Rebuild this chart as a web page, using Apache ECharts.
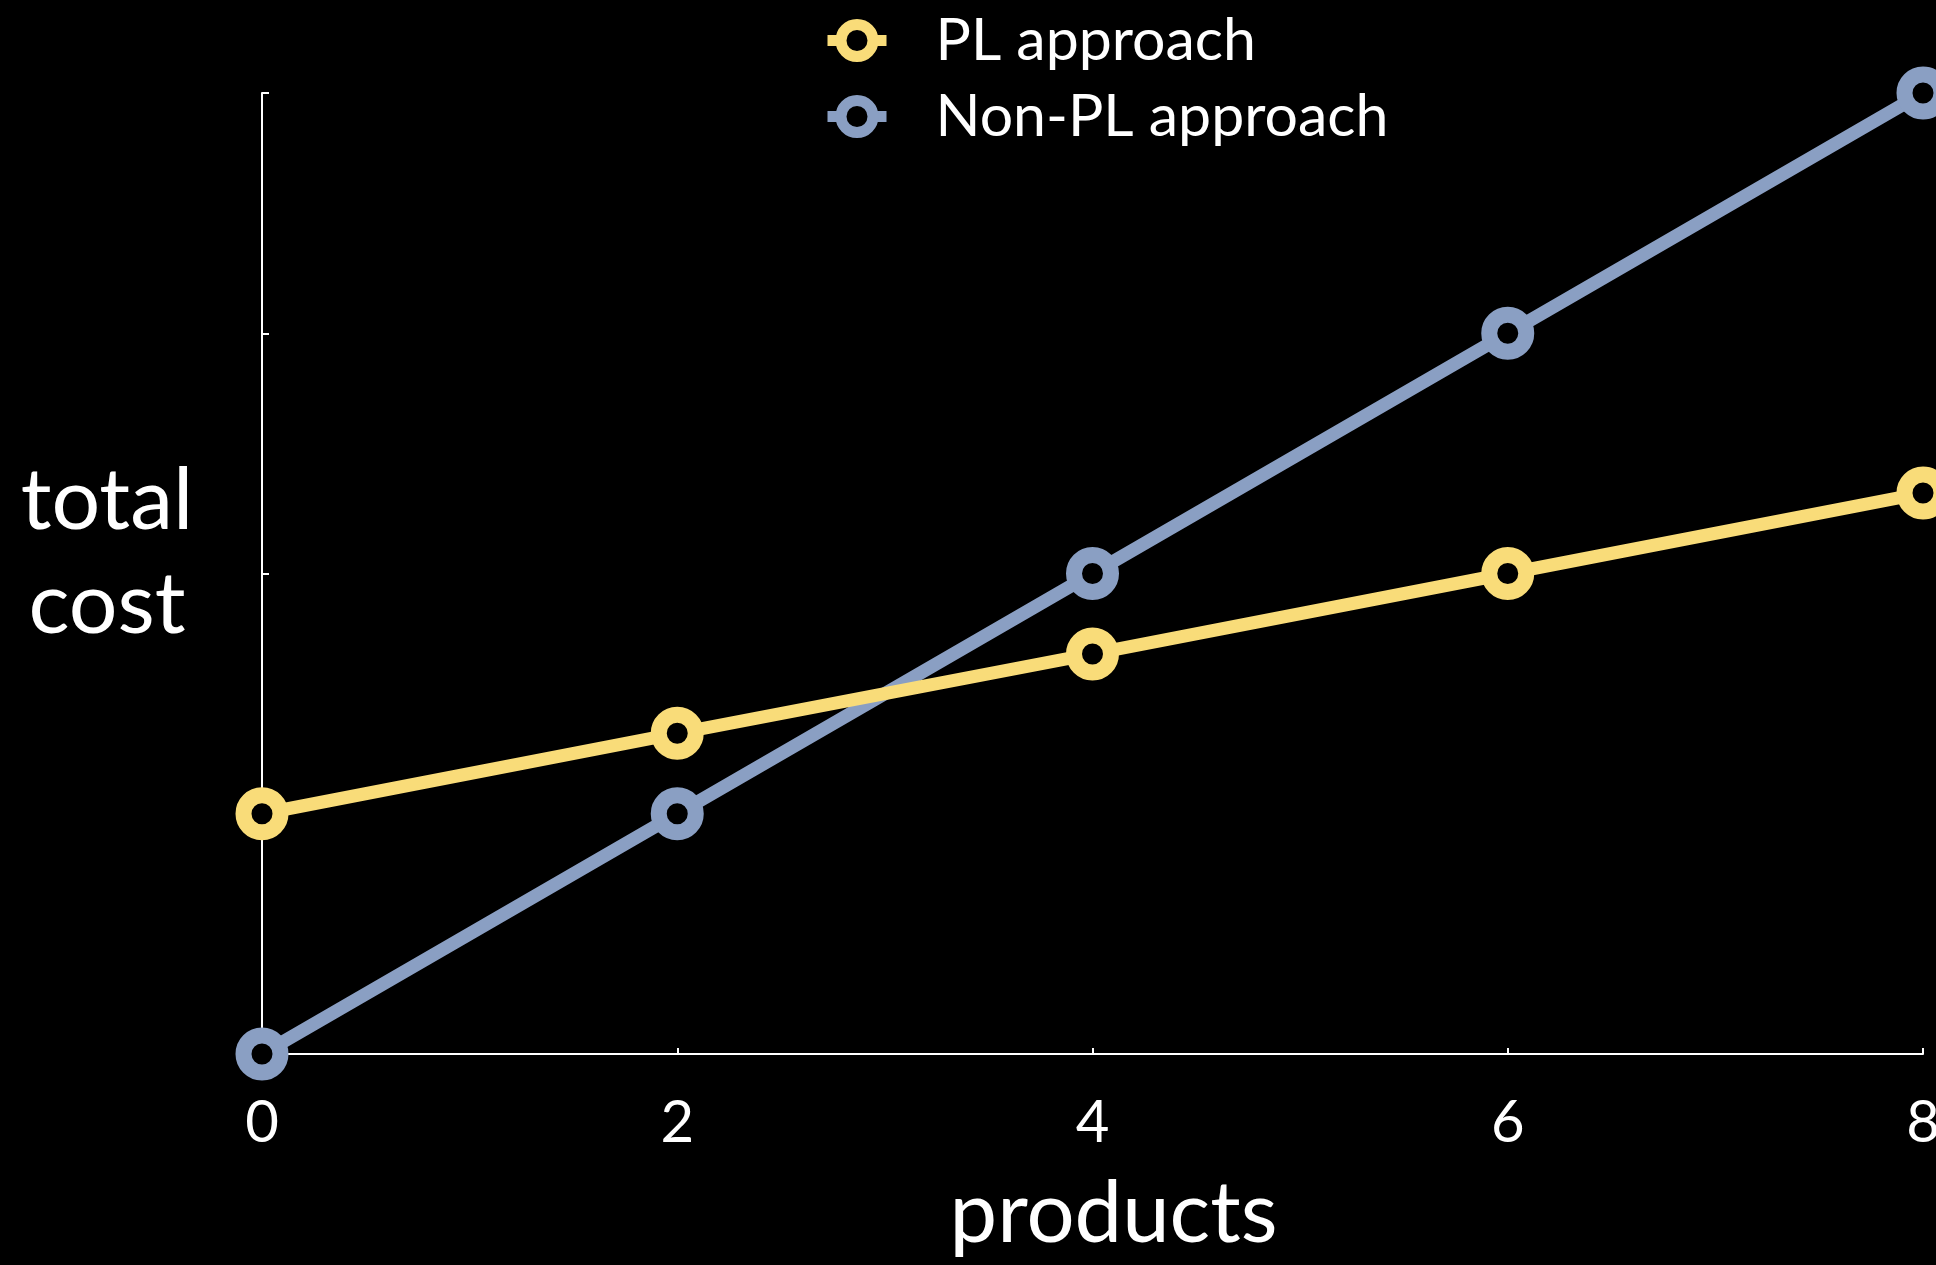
<!DOCTYPE html>
<html>
<head>
<meta charset="utf-8">
<title>total cost vs products</title>
<script src="https://cdn.jsdelivr.net/npm/echarts@6/dist/echarts.min.js"></script>
<style>
  html, body { margin: 0; padding: 0; background: #000; }
  #chart { width: 1936px; height: 1265px; }
</style>
</head>
<body>
<div id="chart"></div>
<script>
// Number of products on the x axis
const products = [0, 2, 4, 6, 8];
// Total cost with a product-line approach: higher start, flatter growth
const plCost = [2, 2.67, 3.33, 4, 4.67];
// Total cost without a product-line approach: grows linearly from zero
const nonPlCost = [0, 2, 4, 6, 8];
const xTicks = [0, 2, 4, 6, 8];
const yTitle = 'total\ncost';

const FONT = 'Lato, "Open Sans", sans-serif';
const YELLOW = '#f9dc79';
const BLUE = '#8a9fc3';

function pairs(xs, ys) {
  return xs.map((x, i) => [x, ys[i]]);
}

function lineSeries(name, color, values, z) {
  return {
    name: name,
    type: 'line',
    data: pairs(products, values),
    z: z,
    symbol: 'circle',
    symbolSize: 37,
    lineStyle: { color: color, width: 13 },
    itemStyle: { color: '#000', borderColor: color, borderWidth: 16 },
    emphasis: { disabled: true },
    animation: false
  };
}

const chart = echarts.init(document.getElementById('chart'));
chart.setOption({
  backgroundColor: '#000',
  textStyle: { fontFamily: FONT },
  grid: { left: 262, right: 13, top: 93, bottom: 211, containLabel: false, outerBoundsMode: 'none' },
  // Horizontal two-line title beside the value axis
  graphic: [{
    type: 'text',
    x: 107,
    y: 553,
    style: {
      text: yTitle,
      fill: '#fff',
      fontSize: 86,
      fontFamily: FONT,
      lineHeight: 104,
      align: 'center',
      verticalAlign: 'middle'
    }
  }],
  legend: {
    orient: 'vertical',
    left: 817,
    top: 6,
    itemWidth: 59,
    itemHeight: 40,
    itemGap: 17,
    data: ['PL approach', 'Non-PL approach'],
    lineStyle: { width: 11 },
    itemStyle: { borderWidth: 11 },
    textStyle: { color: '#fff', fontSize: 59, fontFamily: FONT, padding: [0, 0, 0, 44] }
  },
  xAxis: {
    type: 'value',
    min: 0,
    max: 8,
    interval: 2,
    name: 'products',
    nameLocation: 'middle',
    nameGap: 118,
    nameTextStyle: { color: '#fff', fontSize: 85, fontFamily: FONT, padding: [0, 0, 0, 42] },
    axisLine: { show: true, lineStyle: { color: '#fff', width: 2 } },
    axisTick: { show: true, inside: true, length: 6, lineStyle: { color: '#fff', width: 2 } },
    axisLabel: {
      color: '#fff', fontSize: 58, fontFamily: FONT, margin: 40,
      formatter: v => (xTicks.indexOf(v) >= 0 ? String(v) : '')
    },
    splitLine: { show: false }
  },
  yAxis: {
    type: 'value',
    min: 0,
    max: 8,
    interval: 2,
    axisLine: { show: true, lineStyle: { color: '#fff', width: 2 } },
    axisTick: { show: true, inside: true, length: 7, lineStyle: { color: '#fff', width: 2 } },
    axisLabel: { show: false },
    splitLine: { show: false }
  },
  series: [
    lineSeries('Non-PL approach', BLUE, nonPlCost, 2),
    lineSeries('PL approach', YELLOW, plCost, 3)
  ]
});
</script>
</body>
</html>
